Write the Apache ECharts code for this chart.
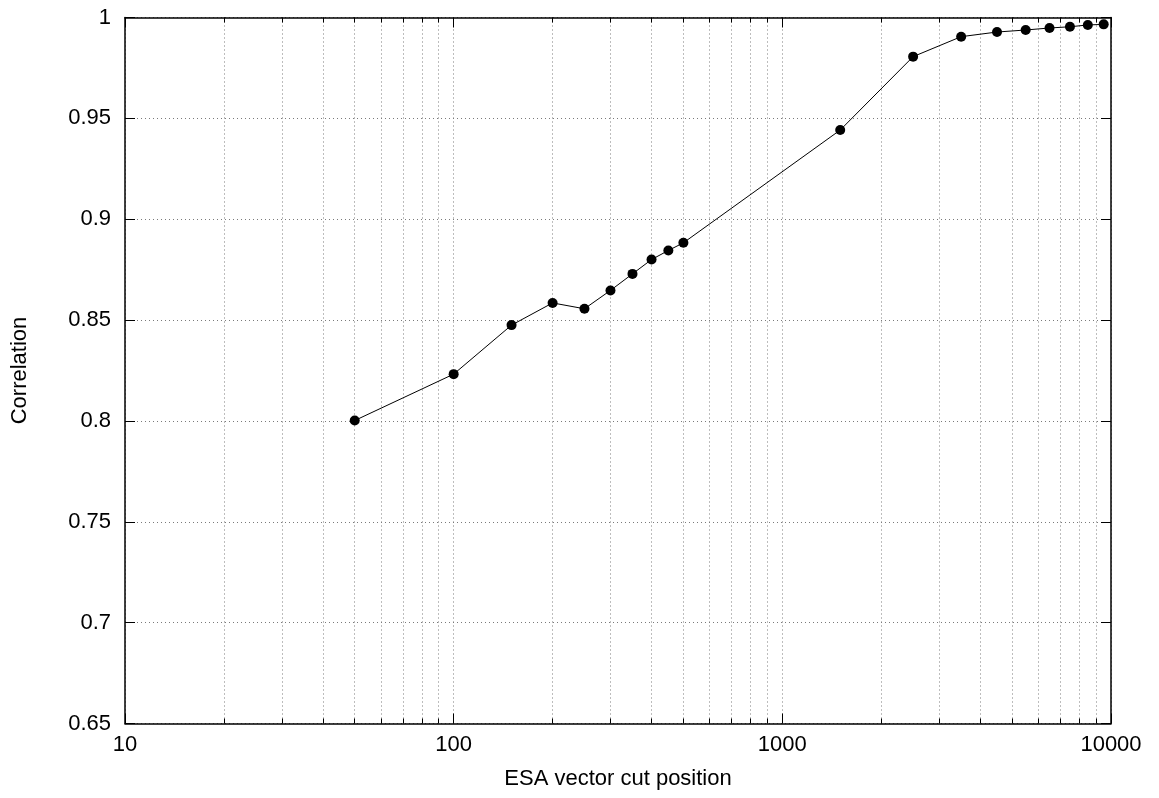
<!DOCTYPE html>
<html>
<head>
<meta charset="utf-8">
<script src="https://cdn.jsdelivr.net/npm/echarts@6/dist/echarts.min.js"></script>
<style>
  html, body { margin: 0; padding: 0; background: #fff; }
  #chart { width: 1159px; height: 798px; }
</style>
</head>
<body>
<div id="chart"></div>
<script>
// cut positions (x) and correlation values (y)
var cutPositions = [50, 100, 150, 200, 250, 300, 350, 400, 450, 500,
  1500, 2500, 3500, 4500, 5500, 6500, 7500, 8500, 9500]
var correlation = [0.8002, 0.8232, 0.8475, 0.8585, 0.8556, 0.8647, 0.8729, 0.8800, 0.8845, 0.8883,
  0.9442, 0.9806, 0.9905, 0.9928, 0.9938, 0.9948, 0.9954, 0.9963, 0.9966]
var xTickValues = [10, 100, 1000, 10000]
var yTickLabels = ['0.65', '0.7', '0.75', '0.8', '0.85', '0.9', '0.95', '1']

var font = 'Liberation Sans, Arial, sans-serif'
var fontSize = 22

var points = cutPositions.map(function (x, i) { return [x, correlation[i]] })

var gridDotted = {
  show: true,
  lineStyle: { color: '#7a7a7a', width: 1, type: [1, 3] }
}

function xAxisCfg (pos, showLabel) {
  return {
    type: 'log',
    logBase: 10,
    position: pos,
    min: xTickValues[0],
    max: xTickValues[xTickValues.length - 1],
    name: showLabel ? 'ESA vector cut position' : '',
    nameLocation: 'middle',
    nameGap: 44,
    nameTextStyle: { color: '#000', fontFamily: font, fontSize: fontSize },
    axisLine: { show: true, onZero: false, lineStyle: { color: '#000', width: 1.5 } },
    axisTick: { show: true, inside: true, length: 10, lineStyle: { color: '#000', width: 1 } },
    minorTick: { show: true, splitNumber: 9, length: 5, lineStyle: { color: '#000', width: 1 } },
    axisLabel: {
      show: showLabel,
      margin: 10,
      color: '#000',
      fontFamily: font,
      fontSize: fontSize,
      formatter: function (v) { return String(Math.round(v)) }
    },
    splitLine: showLabel ? gridDotted : { show: false },
    minorSplitLine: showLabel ? gridDotted : { show: false }
  }
}

function yAxisCfg (pos, showLabel) {
  return {
    type: 'value',
    position: pos,
    min: 0.65,
    max: 1,
    interval: 0.05,
    name: showLabel ? 'Correlation' : '',
    nameLocation: 'middle',
    nameGap: 94,
    nameTextStyle: { color: '#000', fontFamily: font, fontSize: fontSize },
    axisLine: { show: true, lineStyle: { color: '#000', width: 1.5 } },
    axisTick: { show: true, inside: true, length: 10, lineStyle: { color: '#000', width: 1 } },
    axisLabel: {
      show: showLabel,
      margin: 14,
      color: '#000',
      fontFamily: font,
      fontSize: fontSize,
      formatter: function (v) {
        var idx = Math.round((v - 0.65) / 0.05)
        return yTickLabels[idx]
      }
    },
    splitLine: showLabel ? gridDotted : { show: false }
  }
}

var option = {
  backgroundColor: '#fff',
  animation: false,
  grid: {
    left: 125,
    right: 48,
    top: 17.5,
    bottom: 74.5,
    show: false
  },
  xAxis: [xAxisCfg('bottom', true), xAxisCfg('top', false)],
  yAxis: [yAxisCfg('left', true), yAxisCfg('right', false)],
  series: [
    {
      type: 'line',
      data: points,
      xAxisIndex: 0,
      yAxisIndex: 0,
      symbol: 'circle',
      symbolSize: 10,
      itemStyle: { color: '#000' },
      lineStyle: { color: '#000', width: 1 },
      z: 5
    }
  ]
}

var chart = echarts.init(document.getElementById('chart'))
chart.setOption(option)
</script>
</body>
</html>
